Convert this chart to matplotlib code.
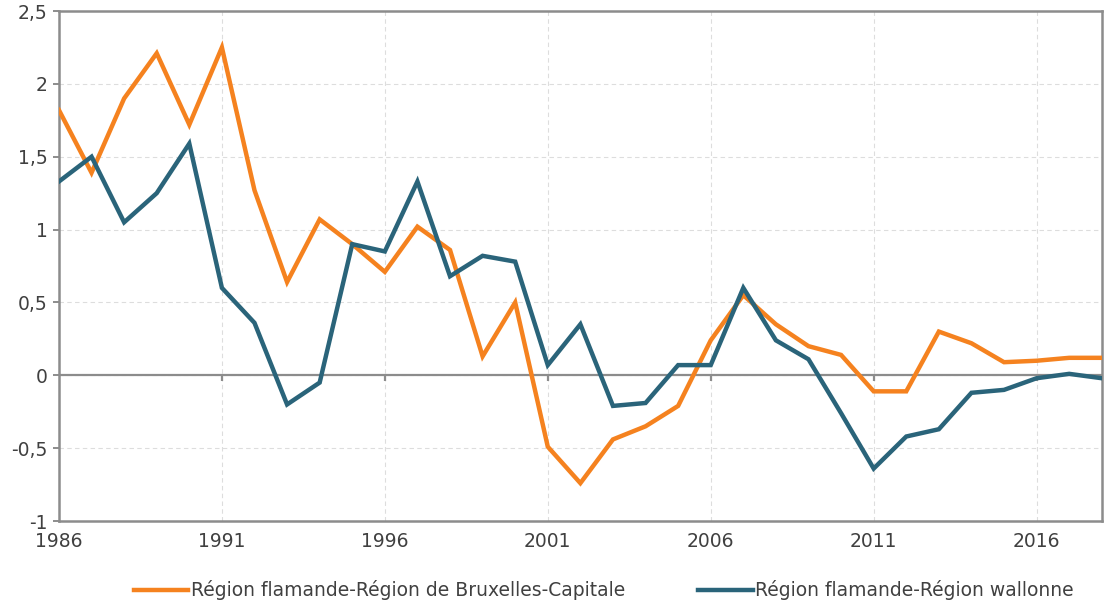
import numpy as np
import matplotlib.pyplot as plt
from matplotlib.ticker import FuncFormatter

# Data
years = list(range(1986, 2019))
flandre_bruxelles = [1.82, 1.39, 1.90, 2.21, 1.72, 2.25, 1.27, 0.64, 1.07, 0.90,
                     0.71, 1.02, 0.86, 0.13, 0.50, -0.49, -0.74, -0.44, -0.35, -0.21,
                     0.24, 0.55, 0.35, 0.20, 0.14, -0.11, -0.11, 0.30, 0.22, 0.09,
                     0.10, 0.12, 0.12]
flandre_wallonie = [1.33, 1.50, 1.05, 1.25, 1.59, 0.60, 0.36, -0.20, -0.05, 0.90,
                    0.85, 1.33, 0.68, 0.82, 0.78, 0.07, 0.35, -0.21, -0.19, 0.07,
                    0.07, 0.60, 0.24, 0.11, -0.26, -0.64, -0.42, -0.37, -0.12, -0.10,
                    -0.02, 0.01, -0.02]
labels = ['Région flamande-Région de Bruxelles-Capitale',
          'Région flamande-Région wallonne']
x_ticks = [1986, 1991, 1996, 2001, 2006, 2011, 2016]
y_ticks = [-1, -0.5, 0, 0.5, 1, 1.5, 2, 2.5]

orange = '#F5821F'
blue = '#2A647A'
axis_grey = '#8C8C8C'
text_grey = '#404040'
fs = 13.5

fig = plt.figure(figsize=(11.04, 6.05), dpi=100)
ax = fig.add_axes([0.0534, 0.1388, 0.9446, 0.843])

ax.plot(years, flandre_bruxelles, color=orange, lw=3.2, label=labels[0],
        solid_joinstyle='miter', zorder=3)
ax.plot(years, flandre_wallonie, color=blue, lw=3.2, label=labels[1],
        solid_joinstyle='miter', zorder=4)

ax.set_xlim(1986, 2018)
ax.set_ylim(-1, 2.5)
ax.set_xticks(x_ticks)
ax.set_yticks(y_ticks)
ax.yaxis.set_major_formatter(FuncFormatter(lambda v, p: f'{v:g}'.replace('.', ',')))

ax.grid(True, color='#DDDDDD', ls=(0, (4, 3)), lw=0.8, zorder=0)

# zero line with small tick marks
ax.axhline(0, color=axis_grey, lw=1.6, zorder=2)
ax.vlines(x_ticks[1:], -0.04, 0, color=axis_grey, lw=1.6, zorder=2)

for s in ax.spines.values():
    s.set_color(axis_grey)
    s.set_linewidth(1.8)

ax.tick_params(axis='x', length=0, pad=8, labelsize=fs, labelcolor=text_grey)
ax.tick_params(axis='y', length=4, width=1.4, color=axis_grey, pad=4,
               labelsize=fs, labelcolor=text_grey)

leg = fig.legend(loc='center', bbox_to_anchor=(0.547, 0.024), ncol=2, frameon=False,
                 fontsize=fs, handlelength=2.9, handletextpad=0.15, columnspacing=3.9,
                 borderpad=0, borderaxespad=0)
for t in leg.get_texts():
    t.set_color(text_grey)

fig.savefig('out.png', dpi=100)
